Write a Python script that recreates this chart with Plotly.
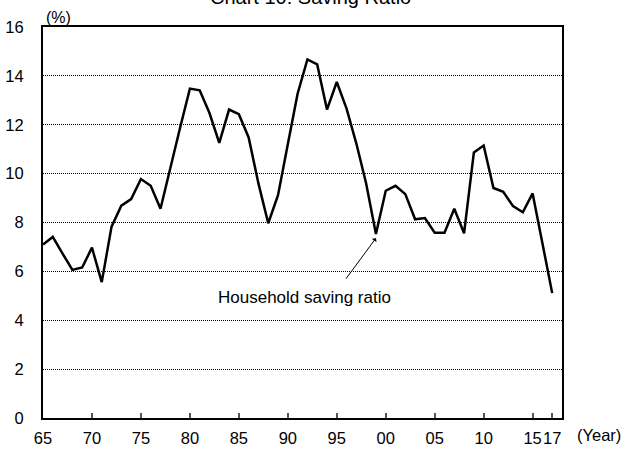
import plotly.graph_objects as go

# Household saving ratio, 1965-2017 (%)
years = list(range(1965, 2018))
saving_ratio = [
    7.10, 7.41, 6.73, 6.06, 6.16, 6.97, 5.56, 7.83, 8.69, 8.96,
    9.78, 9.50, 8.56, 10.25, 11.88, 13.48, 13.41, 12.48, 11.26, 12.62,
    12.43, 11.48, 9.60, 7.97, 9.12, 11.20, 13.27, 14.67, 14.47, 12.62,
    13.75, 12.66, 11.23, 9.60, 7.53, 9.30, 9.50, 9.16, 8.13, 8.18,
    7.58, 7.58, 8.56, 7.56, 10.87, 11.15, 9.41, 9.26, 8.67, 8.42,
    9.19, 7.15, 5.11,
]

tick_years = [1965, 1970, 1975, 1980, 1985, 1990, 1995, 2000, 2005, 2010, 2015, 2017]
tick_text = ["65", "70", "75", "80", "85", "90", "95", "00", "05", "10", "15", "17"]
y_ticks = list(range(0, 17, 2))

FONT = "Arial, Liberation Sans, sans-serif"

fig = go.Figure()
fig.add_trace(go.Scatter(
    x=years, y=saving_ratio, mode="lines",
    line=dict(color="black", width=2.5),
    hoverinfo="skip", showlegend=False,
))

fig.update_layout(
    width=627, height=452,
    margin=dict(l=43, r=65, t=27, b=34),
    paper_bgcolor="white", plot_bgcolor="white",
    font=dict(family=FONT, size=16.5, color="black"),
    showlegend=False,
)

fig.update_xaxes(
    range=[1965, 2018], automargin=False,
    tickmode="array", tickvals=tick_years, ticktext=tick_text, tickangle=0,
    ticks="inside", ticklen=5, tickwidth=1.5, tickcolor="#555555",
    showgrid=False, zeroline=False,
    showline=True, linecolor="black", linewidth=2, mirror=True,
    ticklabelstandoff=4,
)
fig.update_yaxes(
    range=[0, 16], automargin=False,
    tickmode="array", tickvals=y_ticks,
    ticks="", showgrid=True, gridcolor="black", gridwidth=1, griddash="1px,1px",
    zeroline=False,
    showline=True, linecolor="black", linewidth=2, mirror=True,
    ticklabelstandoff=14,
)

# Title (sits partly above the page top)
fig.add_annotation(
    text="Chart 10: Saving Ratio", xref="paper", yref="paper",
    x=(310 - 43) / 519, y=1 + 30 / 391, xanchor="center", yanchor="middle",
    showarrow=False, font=dict(size=20),
)
# Unit labels
fig.add_annotation(
    text="(%)", xref="paper", yref="paper", x=0.0, y=1.0,
    xanchor="left", yanchor="bottom", showarrow=False, xshift=1, yshift=-1,
    font=dict(size=16),
)
fig.add_annotation(
    text="(Year)", xref="paper", yref="paper", x=1.0, y=0.0,
    xanchor="left", yanchor="top", showarrow=False, xshift=13, yshift=-6,
)
# Series label with arrow to the 1999 trough
fig.add_annotation(
    x=1999, y=7.36, ax=-31, ay=42, text="",
    showarrow=True, arrowhead=1, arrowsize=1, arrowwidth=1, arrowcolor="black",
)
fig.add_annotation(
    x=1991.7, y=4.92, text="Household saving ratio",
    showarrow=False, xanchor="center", yanchor="middle", font=dict(size=17),
)

fig.write_html("out.html")
